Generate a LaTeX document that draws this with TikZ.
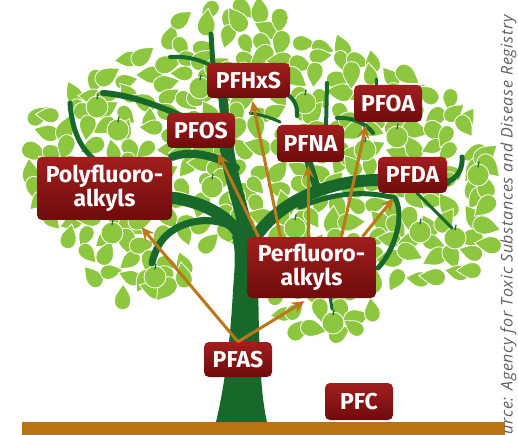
\documentclass[tikz,border=0pt]{standalone}
\usepackage{fontspec}
\setmainfont{Fira Sans}
\newfontfamily\srcfont[LetterSpace=4.5]{Open Sans}
\usetikzlibrary{arrows.meta}
\definecolor{leafg}{RGB}{141,198,63}
\definecolor{dkg}{RGB}{24,104,44}
\definecolor{boxtop}{RGB}{162,30,30}
\definecolor{boxbot}{RGB}{110,12,12}
\definecolor{arrc}{RGB}{186,120,26}
\definecolor{groundc}{RGB}{184,116,18}
\definecolor{srcc}{RGB}{95,95,95}
\tikzset{
  leaf/.pic={\filldraw[fill=leafg,draw=white,line width=0.8pt] (0,11) .. controls (3,6) and (7,2) .. (7,-3) .. controls (7,-8) and (4,-11) .. (0,-11) .. controls (-4,-11) and (-7,-8) .. (-7,-3) .. controls (-7,2) and (-3,6) .. (0,11) -- cycle;},
  apple/.pic={\filldraw[fill=leafg,draw=white,line width=0.8pt] (0,0) circle (11);
              \draw[dkg,line width=1.2pt,line cap=round] (0,-8) -- (1,-13);},
  br/.style={draw=dkg,line cap=round},
  lab/.style={rounded corners=5pt, top color=boxtop, bottom color=boxbot, text=white,
    font=\fontsize{23}{24}\selectfont\bfseries, align=center, inner sep=0pt,
    minimum height=36pt, minimum width=68pt},
  arr/.style={draw=arrc, line width=3pt, -{Stealth[length=13pt,width=12pt,inset=5pt]}}
}
\begin{document}
\begin{tikzpicture}[x=1pt,y=-1pt]
\useasboundingbox (0,0) rectangle (518,435);
% leaves
\pgfmathsetseed{12345}
\foreach \gx in {14,33,...,505}{
 \foreach \gy in {6,24,...,340}{
  \pgfmathsetmacro\px{\gx+6*rand}
  \pgfmathsetmacro\py{\gy+6*rand}
  \pgfmathsetmacro\dd{min(veclen((\px-255)/235,(\py-168)/135), veclen((\px-232)/85,(\py-62)/57), veclen((\px-420)/78,(\py-228)/62), veclen((\px-330)/52,(\py-308)/30), veclen((\px-132)/52,(\py-268)/34))}
  \pgfmathsetmacro\ee{veclen((\px-222)/34,(\py-308)/62)}
  \pgfmathtruncatemacro\ok{and(\dd<1,\ee>1)}
  \ifnum\ok=1
    \pgfmathsetmacro\rr{360*rnd}
    \pgfmathsetmacro\ss{1.02+0.28*rnd}
    \pic[rotate=\rr,scale=\ss] at (\px,\py) {leaf};
  \fi
 }}
% apples
\foreach \ax/\ay in {97/107,118/130,200/88,212/187,305/103,397/137,365/150,295/228,333/323,420/232,455/238,478/175,112/233,155/277}
  \pic at (\ax,\ay) {apple};
% branches
\draw[br,line width=14pt] (248,240) .. controls (240,200) and (228,170) .. (226,140);
\draw[br,line width=9pt] (226,140) .. controls (225,120) and (224,105) .. (222,92);
\draw[br,line width=5pt] (213,66) -- (211,34);
\draw[br,line width=4pt] (208,64) .. controls (195,58) and (182,56) .. (170,57);
\draw[br,line width=8pt] (236,168) .. controls (215,155) and (190,150) .. (172,157);
\draw[br,line width=6pt] (200,125) .. controls (175,112) and (135,95) .. (103,93);
\draw[br,line width=5pt] (70,103) .. controls (72,130) and (80,148) .. (95,160);
\draw[br,line width=12pt] (243,240) .. controls (230,215) and (200,200) .. (165,197);
\draw[br,line width=7pt] (240,232) .. controls (215,212) and (175,220) .. (160,243) .. controls (155,252) and (153,258) .. (152,263);
\draw[br,line width=12pt] (255,238) .. controls (280,200) and (330,180) .. (380,180);
\draw[br,line width=8pt] (380,180) -- (447,182);
\draw[br,line width=5pt] (447,182) .. controls (458,178) and (463,168) .. (462,157);
\draw[br,line width=5pt] (300,207) .. controls (340,190) and (370,192) .. (395,198);
\draw[br,line width=5pt] (395,198) .. controls (405,215) and (395,250) .. (378,268);
\draw[br,line width=3pt] (417,193) -- (452,228);
\draw[br,line width=8pt] (318,192) -- (308,160);
\draw[br,line width=4pt] (326,128) -- (327,83);
\draw[br,line width=3pt] (250,113) .. controls (262,115) and (272,118) .. (280,122);
\draw[br,line width=4pt] (337,118) .. controls (350,117) and (365,122) .. (373,133);
\draw[br,line width=3pt] (376,88) -- (376,79);
\draw[br,line width=4pt] (288,95) .. controls (295,100) and (298,108) .. (297,116);
\draw[br,line width=3pt] (330,296) -- (332,309);
% trunk
\fill[dkg] (216,422) .. controls (226,380) and (231,330) .. (233,290) .. controls (235,265) and (236,250) .. (232,236) -- (262,232) .. controls (258,260) and (258,300) .. (259,330) .. controls (260,370) and (262,400) .. (267,422) -- cycle;
% ground
\fill[groundc] (22,422) rectangle (505,435);
% labels
\node[lab,minimum width=83pt,minimum height=35pt] (pfhxs) at (248.5,80.5) {PFHxS};
\node[lab,minimum height=35pt] (pfos) at (201,130.5) {PFOS};
\node[lab,minimum width=67pt,minimum height=37pt] (pfna) at (310.5,143.5) {PFNA};
\node[lab,minimum height=37pt] (pfoa) at (388,103.5) {PFOA};
\node[lab,minimum width=69pt] (pfda) at (412.5,175) {PFDA};
\node[lab,minimum width=135pt,minimum height=63pt] (poly) at (104.5,188.5) {Polyfluoro-\\alkyls};
\node[lab,minimum width=129pt,minimum height=61pt] (perf) at (311.5,267.5) {Perfluoro-\\alkyls};
\node[lab,minimum height=35pt] (pfas) at (238,359.5) {PFAS};
\node[lab,minimum height=37pt] (pfc) at (359,401.5) {PFC};
% arrows
\draw[arr] (pfas.north) -- ([xshift=37pt,yshift=-7pt]poly.south);
\draw[arr] (pfas.north) -- ([xshift=-7pt,yshift=-3pt]perf.south);
\draw[arr] ([xshift=-53pt]perf.north) -- ([xshift=17pt,yshift=-5pt]pfos.south);
\draw[arr] ([xshift=-31pt]perf.north) -- ([xshift=4pt,yshift=-3pt]pfhxs.south);
\draw[arr] ([xshift=-3pt]perf.north) -- ([xshift=-2pt,yshift=-3pt]pfna.south);
\draw[arr] ([xshift=30pt]perf.north) -- ([xshift=-22pt,yshift=-3pt]pfoa.south);
\draw[arr] ([xshift=51pt]perf.north) -- ([xshift=-19pt,yshift=-5pt]pfda.south);
% source
\node[rotate=90,anchor=base west,inner sep=0pt,text=srcc,font=\srcfont\itshape\fontsize{16}{18}\selectfont] (src) at (512.5,435) {urce: Agency for Toxic Substances and Disease Registry};
\end{tikzpicture}
\end{document}
